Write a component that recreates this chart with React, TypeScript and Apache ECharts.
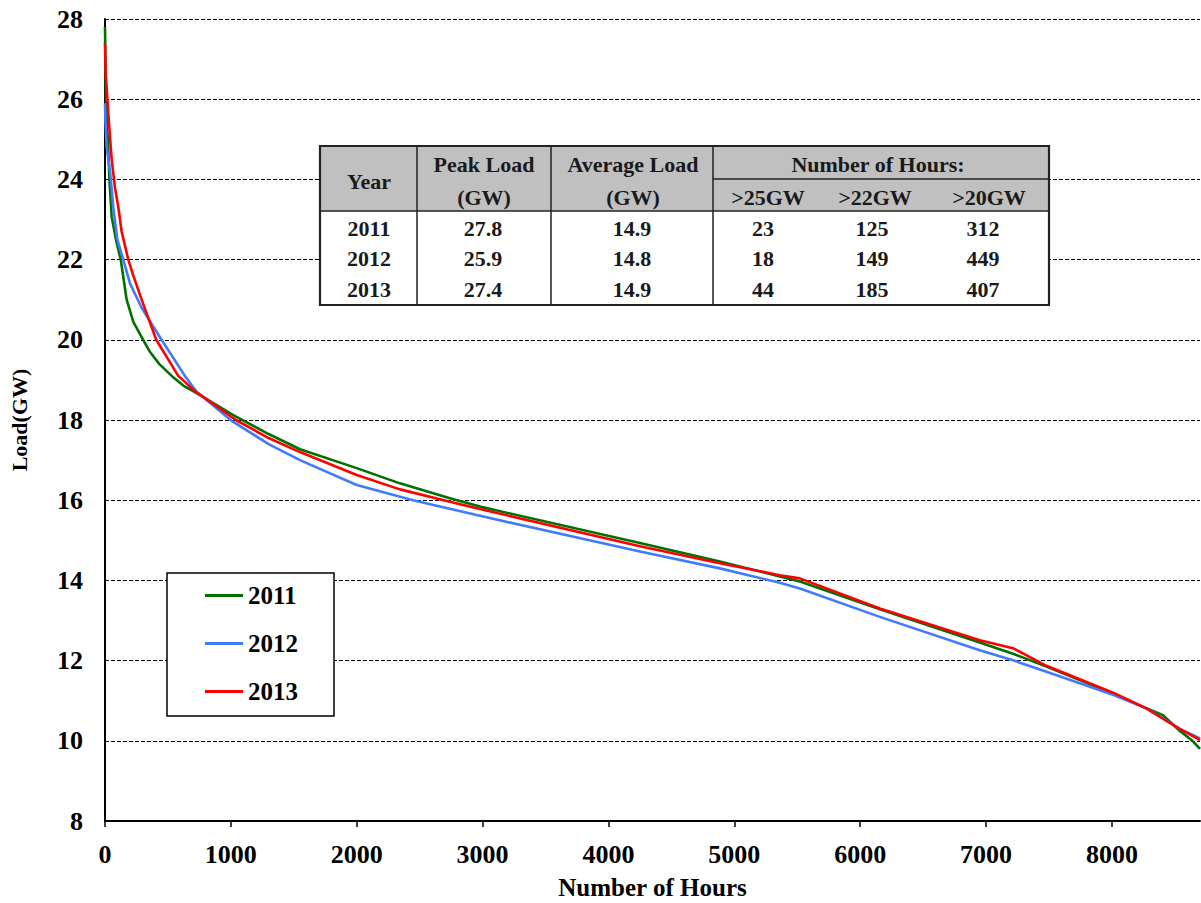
import React, { useEffect, useRef } from "react";
import * as echarts from "echarts";

const FONT = '"Liberation Serif", "Times New Roman", serif';

// Load duration curves (hours, GW)
const hours2011 = [0, 3, 8, 18, 23, 35, 53, 90, 125, 172, 225, 312, 357, 430, 530, 622, 700, 755, 887, 1019, 1300, 1549, 2000, 2343, 2740, 2979, 4250, 4885, 5361, 5521, 6156, 6950, 7214, 7480, 8009, 8274, 8406, 8538, 8640, 8700];
const load2011 = [27.8, 27.0, 26.0, 25.2, 25.0, 24.0, 23.07, 22.45, 22.0, 21.0, 20.45, 19.95, 19.7, 19.4, 19.1, 18.86, 18.72, 18.62, 18.37, 18.12, 17.65, 17.27, 16.8, 16.42, 16.05, 15.84, 14.93, 14.47, 14.1, 13.97, 13.28, 12.45, 12.17, 11.85, 11.18, 10.81, 10.64, 10.25, 10.0, 9.8];

const hours2012 = [0, 3, 13, 40, 66, 98, 145, 199, 291, 449, 635, 723, 1006, 1300, 1549, 2000, 2448, 2979, 4250, 4885, 5361, 5521, 6156, 6950, 7214, 7480, 8009, 8274, 8406, 8538, 8700];
const load2012 = [25.9, 25.5, 24.8, 24.2, 23.3, 22.5, 22.0, 21.4, 20.8, 20.0, 19.1, 18.72, 17.98, 17.4, 17.0, 16.38, 16.0, 15.61, 14.72, 14.3, 13.94, 13.8, 13.09, 12.26, 12.01, 11.72, 11.15, 10.81, 10.56, 10.3, 10.06];

const hours2013 = [0, 5, 18, 34, 53, 79, 106, 132, 185, 225, 291, 407, 582, 723, 1040, 1300, 1549, 2000, 2343, 2740, 2979, 4250, 4885, 5361, 5521, 6156, 6950, 7214, 7480, 8009, 8274, 8406, 8538, 8700];
const load2013 = [27.4, 26.65, 26.06, 25.3, 24.5, 23.8, 23.3, 22.7, 22.0, 21.6, 21.0, 20.0, 19.1, 18.7, 18.0, 17.55, 17.2, 16.63, 16.27, 15.96, 15.78, 14.85, 14.43, 14.13, 14.05, 13.3, 12.51, 12.31, 11.87, 11.2, 10.81, 10.55, 10.3, 10.02];

const seriesNames = ["2011", "2012", "2013"];
const seriesColors = ["#007000", "#3f7bff", "#ff0000"];

// Summary table
const tableYears = ["2011", "2012", "2013"];
const peakLoad = ["27.8", "25.9", "27.4"];
const avgLoad = ["14.9", "14.8", "14.9"];
const hoursOver25 = ["23", "18", "44"];
const hoursOver22 = ["125", "149", "185"];
const hoursOver20 = ["312", "449", "407"];
const hourThresholds = [">25GW", ">22GW", ">20GW"];

function zip(h: number[], v: number[]) {
  return h.map((x, i) => [x, v[i]]);
}

function buildTable() {
  const els: any[] = [];
  const x0 = 320, x1 = 1049, y0 = 146, y1 = 305, yh = 211, ysub = 179;
  const cols = [417, 551, 713];
  const txt = (x: number, y: number, s: string) => ({
    type: "text",
    x,
    y,
    style: {
      text: s,
      x: 0,
      y: 0,
      align: "center",
      verticalAlign: "middle",
      fontFamily: FONT,
      fontWeight: "bold",
      fontSize: 22,
      fill: "#1a1a1a",
    },
    z: 102,
  });
  els.push({ type: "rect", shape: { x: x0, y: y0, width: x1 - x0, height: y1 - y0 }, style: { fill: "#ffffff", stroke: "none" }, z: 100 });
  els.push({ type: "rect", shape: { x: x0, y: y0, width: x1 - x0, height: yh - y0 }, style: { fill: "#c0c0c0", stroke: "none" }, z: 100 });
  cols.forEach((c) => {
    els.push({ type: "line", shape: { x1: c, y1: y0, x2: c, y2: y1 }, style: { stroke: "#222", lineWidth: 1.5 }, z: 101 });
  });
  els.push({ type: "line", shape: { x1: x0, y1: yh, x2: x1, y2: yh }, style: { stroke: "#222", lineWidth: 1.5 }, z: 101 });
  els.push({ type: "line", shape: { x1: 713, y1: ysub, x2: x1, y2: ysub }, style: { stroke: "#222", lineWidth: 1.5 }, z: 101 });
  els.push({ type: "rect", shape: { x: x0, y: y0, width: x1 - x0, height: y1 - y0 }, style: { fill: "none", stroke: "#222", lineWidth: 2.2 }, z: 103 });

  els.push(txt(369, 181, "Year"));
  els.push(txt(484, 164, "Peak Load"));
  els.push(txt(484, 197, "(GW)"));
  els.push(txt(633, 164, "Average Load"));
  els.push(txt(633, 197, "(GW)"));
  els.push(txt(878, 164, "Number of Hours:"));
  const subX = [768, 875, 989];
  hourThresholds.forEach((t, i) => els.push(txt(subX[i], 197, t)));
  const rowY = [228, 258.5, 289];
  const dataX = [369, 483, 632, 763, 872, 983];
  tableYears.forEach((yr, r) => {
    const row = [yr, peakLoad[r], avgLoad[r], hoursOver25[r], hoursOver22[r], hoursOver20[r]];
    row.forEach((s, c) => els.push(txt(dataX[c], rowY[r], s)));
  });
  return els;
}

export default function App() {
  const ref = useRef<HTMLDivElement>(null);
  useEffect(() => {
    if (!ref.current) return;
    const chart = echarts.init(ref.current, null, { renderer: "svg" });
    const data = [zip(hours2011, load2011), zip(hours2012, load2012), zip(hours2013, load2013)];
    chart.setOption({
      animation: false,
      backgroundColor: "#ffffff",
      grid: { left: 105, top: 19, right: 1, bottom: 82, containLabel: false, outerBoundsMode: "none" },
      xAxis: {
        type: "value",
        min: 0,
        max: 8700,
        interval: 1000,
        name: "Number of Hours",
        nameLocation: "middle",
        nameGap: 54,
        nameTextStyle: { fontFamily: FONT, fontWeight: "bold", fontSize: 25, color: "#000" },
        axisLine: { show: true, lineStyle: { color: "#000", width: 2 } },
        axisTick: { show: true, length: 6, lineStyle: { color: "#000", width: 1.5 } },
        axisLabel: {
          showMaxLabel: false,
          margin: 20,
          fontFamily: FONT,
          fontWeight: "bold",
          fontSize: 26,
          color: "#000",
          formatter: (v: number) => String(v),
        },
        splitLine: { show: false },
      },
      yAxis: {
        type: "value",
        min: 8,
        max: 28,
        interval: 2,
        name: "Load(GW)",
        nameLocation: "middle",
        nameGap: 75,
        nameTextStyle: { fontFamily: FONT, fontWeight: "bold", fontSize: 22, color: "#000" },
        axisLine: { show: true, lineStyle: { color: "#000", width: 2 } },
        axisTick: { show: false },
        axisLabel: { margin: 22, fontFamily: FONT, fontWeight: "bold", fontSize: 26, color: "#000" },
        splitLine: { show: true, lineStyle: { color: "#000", type: [4, 2], width: 1 } },
      },
      legend: {
        orient: "vertical",
        left: 167,
        top: 573,
        padding: [10, 36, 12, 38],
        itemGap: 23,
        itemWidth: 38,
        itemHeight: 3,
        icon: "rect",
        backgroundColor: "#ffffff",
        borderColor: "#000",
        borderWidth: 1.5,
        textStyle: { fontFamily: FONT, fontWeight: "bold", fontSize: 25, color: "#000" },
        data: seriesNames,
      },
      series: seriesNames.map((n, i) => ({
        name: n,
        type: "line",
        data: data[i],
        showSymbol: false,
        smooth: false,
        lineStyle: { color: seriesColors[i], width: 2.6, join: "round" },
        itemStyle: { color: seriesColors[i] },
        z: 3 + (i === 2 ? 1 : 0),
      })),
      graphic: buildTable(),
    });
    return () => chart.dispose();
  }, []);
  return (
    <div
      ref={ref}
      style={{ position: "absolute", left: 0, top: 0, width: 1201, height: 903 }}
    />
  );
}
